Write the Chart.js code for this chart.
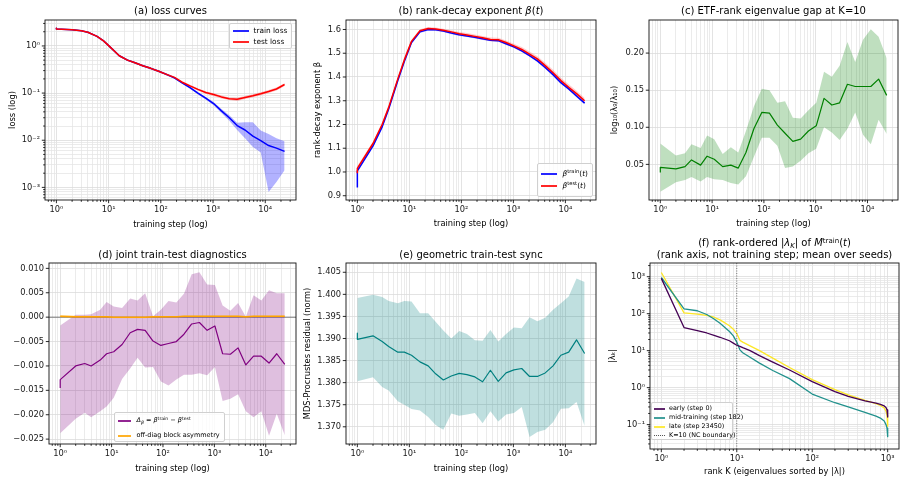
<!DOCTYPE html>
<html><head><meta charset="utf-8">
<script src="https://cdn.jsdelivr.net/npm/chart.js@4.4.0/dist/chart.umd.min.js"></script>
<style>
html,body{margin:0;padding:0;background:#fff}
body{position:relative;width:906px;height:482px;overflow:hidden;font-family:"DejaVu Sans",sans-serif;color:#000}
canvas{position:absolute}
.t{position:absolute;font-size:10px;line-height:12px;white-space:nowrap;transform:translateX(-50%);text-align:center}
.lg{position:absolute;box-sizing:border-box;border:1px solid #d0d0d0;border-radius:2px;background:rgba(255,255,255,0.8)}
.sw{position:absolute}
.lt{position:absolute;white-space:nowrap}
sup{font-size:70%;vertical-align:0;position:relative;top:-0.5em}
sub{font-size:70%;vertical-align:0;position:relative;top:0.3em}
</style></head><body>
<script>
// ---------------- data ----------------
const steps = [0,1,2,3,4,6,8,11,16,23,32,45,64,91,128,182,256,362,512,724,1024,1448,2048,2896,4096,5793,8192,11585,16384,23450];

const trainLoss   = [2.38,2.28,2.21,2.1,1.95,1.6,1.28,0.92,0.62,0.5,0.44,0.38,0.335,0.29,0.25,0.21,0.165,0.13,0.1,0.078,0.06,0.042,0.03,0.0205,0.0165,0.0122,0.0098,0.0077,0.0068,0.0058];
const trainLossHi = [2.42,2.32,2.25,2.14,1.99,1.64,1.31,0.95,0.64,0.52,0.455,0.395,0.348,0.3,0.26,0.218,0.172,0.137,0.106,0.083,0.065,0.046,0.034,0.0235,0.024,0.024,0.016,0.0135,0.011,0.0095];
const trainLossLo = [2.34,2.24,2.17,2.06,1.91,1.56,1.25,0.89,0.6,0.48,0.425,0.365,0.322,0.28,0.24,0.202,0.158,0.123,0.094,0.073,0.055,0.038,0.026,0.0165,0.011,0.0072,0.0055,0.0008,0.0013,0.0023];
const testLoss    = [2.38,2.28,2.21,2.1,1.95,1.6,1.28,0.92,0.62,0.5,0.44,0.38,0.335,0.29,0.25,0.215,0.17,0.142,0.12,0.103,0.093,0.083,0.076,0.074,0.081,0.088,0.097,0.108,0.122,0.152];
const testLossHi  = [2.45,2.34,2.27,2.16,2.01,1.66,1.33,0.96,0.65,0.525,0.46,0.4,0.352,0.304,0.263,0.226,0.179,0.15,0.127,0.109,0.099,0.089,0.081,0.08,0.087,0.094,0.104,0.116,0.131,0.162];
const testLossLo  = [2.31,2.22,2.15,2.04,1.89,1.54,1.23,0.88,0.59,0.475,0.42,0.36,0.318,0.276,0.237,0.204,0.161,0.134,0.113,0.097,0.087,0.077,0.071,0.068,0.075,0.082,0.09,0.1,0.113,0.142];

const betaTrain   = [0.935,1.005,1.11,1.19,1.265,1.385,1.465,1.545,1.59,1.6,1.599,1.594,1.585,1.578,1.573,1.567,1.561,1.555,1.553,1.54,1.527,1.51,1.49,1.468,1.44,1.41,1.376,1.35,1.32,1.29];
const betaTrainHi = [0.945,1.012,1.116,1.196,1.271,1.391,1.471,1.551,1.595,1.605,1.604,1.599,1.59,1.583,1.578,1.572,1.566,1.56,1.558,1.545,1.532,1.515,1.495,1.474,1.446,1.416,1.382,1.356,1.326,1.296];
const betaTrainLo = [0.925,0.998,1.104,1.184,1.259,1.379,1.459,1.539,1.585,1.595,1.594,1.589,1.58,1.573,1.568,1.562,1.556,1.55,1.548,1.535,1.522,1.505,1.485,1.462,1.434,1.404,1.37,1.344,1.314,1.284];
const betaTest    = [0.995,1.015,1.12,1.2,1.272,1.392,1.472,1.55,1.595,1.604,1.602,1.597,1.59,1.582,1.577,1.571,1.565,1.558,1.557,1.545,1.531,1.516,1.496,1.476,1.448,1.418,1.385,1.357,1.33,1.3];
const betaTestHi  = [1.005,1.025,1.128,1.208,1.28,1.4,1.48,1.557,1.601,1.61,1.608,1.603,1.597,1.589,1.585,1.579,1.573,1.566,1.565,1.554,1.54,1.526,1.507,1.487,1.46,1.43,1.397,1.369,1.342,1.312];
const betaTestLo  = [0.985,1.005,1.112,1.192,1.264,1.384,1.464,1.543,1.589,1.598,1.596,1.591,1.583,1.575,1.569,1.563,1.557,1.55,1.549,1.536,1.522,1.506,1.485,1.465,1.436,1.406,1.373,1.345,1.318,1.288];

const etfGap   = [0.039,0.046,0.044,0.047,0.056,0.049,0.061,0.057,0.047,0.049,0.045,0.066,0.098,0.120,0.119,0.103,0.092,0.081,0.084,0.095,0.102,0.139,0.130,0.133,0.158,0.155,0.155,0.155,0.165,0.143];
const etfGapHi = [0.078,0.078,0.062,0.065,0.077,0.072,0.089,0.084,0.064,0.073,0.066,0.095,0.128,0.152,0.150,0.133,0.135,0.113,0.112,0.123,0.133,0.175,0.168,0.183,0.215,0.188,0.218,0.232,0.222,0.193];
const etfGapLo = [0.013,0.013,0.026,0.029,0.033,0.027,0.033,0.030,0.029,0.025,0.023,0.034,0.060,0.086,0.086,0.075,0.045,0.047,0.055,0.065,0.071,0.100,0.093,0.083,0.098,0.120,0.090,0.077,0.110,0.091];

const deltaBeta   = [-0.0145,-0.0128,-0.0100,-0.0095,-0.0100,-0.0088,-0.0075,-0.0071,-0.0056,-0.0032,-0.0025,-0.0027,-0.0049,-0.0058,-0.0054,-0.0050,-0.0035,-0.0014,-0.0011,-0.0027,-0.0018,-0.0075,-0.0076,-0.0063,-0.0098,-0.0080,-0.0080,-0.0094,-0.0075,-0.0097];
const deltaBetaHi = [-0.0017,-0.0017,0.0005,0.0005,0.0006,0.0015,0.0031,0.0022,0.0019,0.0038,0.0034,0.0049,0.0002,0.0015,0.0033,0.0030,0.0048,0.0088,0.0092,0.0067,0.0066,0.0024,0.0013,0.0029,0.0001,0.0045,0.0034,0.0055,0.0049,0.0049];
const deltaBetaLo = [-0.0238,-0.0238,-0.0208,-0.0196,-0.0205,-0.0193,-0.0183,-0.0165,-0.0127,-0.0105,-0.0083,-0.0103,-0.0102,-0.0132,-0.0140,-0.0128,-0.0118,-0.0118,-0.0115,-0.0119,-0.0102,-0.0172,-0.0167,-0.0158,-0.0193,-0.0205,-0.0193,-0.0243,-0.0198,-0.0242];
const blockAsym   = [0.0002,0.0002,0.0001,0.0001,0.0001,0.0001,0.0001,0.0000,0.0000,0.0000,0.0000,0.0000,0.0001,0.0001,0.0001,0.0001,0.0002,0.0002,0.0002,0.0002,0.0002,0.0002,0.0002,0.0002,0.0001,0.0002,0.0002,0.0002,0.0002,0.0002];
const blockAsymHi = [0.0004,0.0004,0.0003,0.0003,0.0003,0.0002,0.0002,0.0001,0.0001,0.0001,0.0001,0.0001,0.0002,0.0002,0.0002,0.0002,0.0003,0.0003,0.0003,0.0003,0.0003,0.0003,0.0003,0.0003,0.0002,0.0003,0.0003,0.0003,0.0003,0.0003];
const blockAsymLo = [0.0000,0.0000,-0.0001,-0.0001,-0.0001,-0.0001,-0.0001,-0.0002,-0.0002,-0.0002,-0.0002,-0.0002,-0.0001,-0.0001,0.0000,0.0000,0.0001,0.0001,0.0001,0.0001,0.0001,0.0001,0.0001,0.0001,0.0000,0.0001,0.0001,0.0001,0.0001,0.0001];

const mdsResid   = [1.3912,1.3898,1.3906,1.3893,1.3882,1.3869,1.3869,1.3862,1.3847,1.3838,1.3820,1.3806,1.3815,1.3821,1.3818,1.3813,1.3802,1.3828,1.3803,1.3822,1.3829,1.3832,1.3814,1.3814,1.3822,1.3838,1.3862,1.3869,1.3897,1.3866];
const mdsResidHi = [1.3992,1.3992,1.3999,1.3994,1.3985,1.3980,1.3985,1.3984,1.3957,1.3957,1.3938,1.3918,1.3900,1.3917,1.3910,1.3896,1.3895,1.3919,1.3893,1.3910,1.3925,1.3923,1.3948,1.3939,1.3947,1.3965,1.3980,1.3995,1.4036,1.4028];
const mdsResidLo = [1.3803,1.3803,1.3812,1.3790,1.3782,1.3758,1.3750,1.3740,1.3737,1.3722,1.3704,1.3693,1.3730,1.3725,1.3728,1.3731,1.3708,1.3735,1.3712,1.3728,1.3731,1.3745,1.3677,1.3688,1.3693,1.3710,1.3741,1.3742,1.3756,1.3702];

const ranks    = [1,2,3,4,5,6,8,9,10,11,12,15,20,30,50,100,200,300,500,700,800,900,950,980,1000];
const eigEarly = [900,42,35,30,26,23,18.5,16,14,13,12,10,7.3,4.9,3.0,1.45,0.78,0.58,0.44,0.38,0.35,0.32,0.29,0.25,0.16];
const eigMid   = [950,135,120,95,72,55,33,25,17,10.5,8.8,6.6,4.6,2.9,1.75,0.67,0.39,0.3,0.215,0.17,0.15,0.125,0.1,0.08,0.047];
const eigLate  = [1300,105,97,90,80,68,47,38,29,19,17,13.5,10,6.3,3.5,1.65,0.88,0.64,0.45,0.37,0.33,0.28,0.23,0.18,0.09];
const ncBoundary = 10;

// tick labels
const stepTicks = [1,10,100,1000,10000];
const stepTickLabels = ['10\u2070','10\u00b9','10\u00b2','10\u00b3','10\u2074'];
const lossTicks = [0.001,0.01,0.1,1];
const lossTickLabels = ['10\u207b\u00b3','10\u207b\u00b2','10\u207b\u00b9','10\u2070'];
const betaTicks = [0.9,1.0,1.1,1.2,1.3,1.4,1.5,1.6];
const betaTickLabels = ['0.9','1.0','1.1','1.2','1.3','1.4','1.5','1.6'];
const gapTicks = [0.05,0.10,0.15,0.20];
const gapTickLabels = ['0.05','0.10','0.15','0.20'];
const deltaTicks = [-0.025,-0.020,-0.015,-0.010,-0.005,0,0.005,0.010];
const deltaTickLabels = ['\u22120.025','\u22120.020','\u22120.015','\u22120.010','\u22120.005','0.000','0.005','0.010'];
const residTicks = [1.370,1.375,1.380,1.385,1.390,1.395,1.400,1.405];
const residTickLabels = ['1.370','1.375','1.380','1.385','1.390','1.395','1.400','1.405'];
const rankTicks = [1,10,100,1000];
const rankTickLabels = ['10\u2070','10\u00b9','10\u00b2','10\u00b3'];
const eigTicks = [0.1,1,10,100,1000];
const eigTickLabels = ['10\u207b\u00b9','10\u2070','10\u00b9','10\u00b2','10\u00b3'];

// ---------------- helpers ----------------
const FONT = '"DejaVu Sans", sans-serif';
const MAJOR = '#dcdcdc', MINOR = '#e6e6e6';
const stepX = steps.map(s => Math.max(s, 1));
const pts = (xs, ys) => xs.map((x, i) => ({x, y: ys[i]}));

function logTickList(min, max) {
  const out = [];
  const k0 = Math.floor(Math.log10(min)), k1 = Math.ceil(Math.log10(max));
  for (let k = k0; k <= k1; k++) for (let m = 1; m <= 9; m++) {
    const v = m * Math.pow(10, k);
    if (v >= min && v <= max) out.push({value: v, minor: m !== 1});
  }
  return out;
}
function labelFor(ax, v) {
  for (let i = 0; i < ax.majors.length; i++) {
    const m = ax.majors[i];
    if (Math.abs(v - m) <= 1e-9 * Math.max(1e-12, Math.abs(m)) + 1e-12) return ax.labels[i];
  }
  return '';
}
const framePlugin = {
  id: 'frame',
  afterDatasetsDraw(chart) {
    const {ctx, chartArea: a} = chart;
    ctx.save();
    ctx.strokeStyle = '#111'; ctx.lineWidth = 0.9;
    ['x','y'].forEach(id => {
      const s = chart.scales[id];
      s.ticks.forEach(t => {
        const len = t.minor ? 1.8 : 3.2;
        const p = s.getPixelForValue(t.value);
        ctx.beginPath();
        if (id === 'x') { ctx.moveTo(p, a.bottom); ctx.lineTo(p, a.bottom + len); }
        else { ctx.moveTo(a.left, p); ctx.lineTo(a.left - len, p); }
        ctx.stroke();
      });
    });
    ctx.strokeRect(a.left, a.top, a.right - a.left, a.bottom - a.top);
    ctx.restore();
  }
};

function makePanel(box, cfg) {
  const PADL = 60, PADT = 10, PADR = 10, AXH = 45;
  const W = box.r - box.l + PADL + PADR, H = box.b - box.t + PADT + AXH;
  const cv = document.createElement('canvas');
  cv.width = W; cv.height = H;
  cv.style.width = W + 'px'; cv.style.height = H + 'px';
  cv.style.left = (box.l - PADL) + 'px'; cv.style.top = (box.t - PADT) + 'px';
  document.body.appendChild(cv);
  const mkAxis = (ax, isX) => {
    const tickList = ax.log ? logTickList(ax.min, ax.max) : ax.majors.map(v => ({value: v, minor: false}));
    const o = {
      type: ax.log ? 'logarithmic' : 'linear',
      min: ax.min, max: ax.max, bounds: 'data',
      afterBuildTicks: s => { s.ticks = tickList.map(t => ({value: t.value, minor: t.minor})); },
      afterFit: s => { if (isX) s.height = AXH; else s.width = PADL; },
      ticks: { autoSkip: false, maxRotation: 0, minRotation: 0, padding: 5, color: '#1a1a1a',
               font: {family: FONT, size: 8.3}, callback: v => labelFor(ax, v) },
      grid: { display: true, drawTicks: false, lineWidth: 0.8,
              color: c => (c.tick && c.tick.minor) ? (ax.minorGrid === false ? 'rgba(0,0,0,0)' : MINOR) : MAJOR },
      border: { display: false },
      title: ax.title ? { display: true, text: ax.title, color: '#000', font: {family: FONT, size: 8.3, lineHeight: 1.2},
               padding: isX ? {top: 0, bottom: box.b + AXH - ax.titleAt - 5} : {top: ax.titleAt - (box.l - PADL) - 5, bottom: 0} } : {display: false}
    };
    return o;
  };
  return new Chart(cv, {
    type: 'line',
    data: { datasets: cfg.datasets },
    options: {
      responsive: false, animation: false, devicePixelRatio: 1,
      layout: { padding: {left: 0, top: PADT, right: PADR, bottom: 0} },
      elements: { point: {radius: 0}, line: {tension: 0, borderJoinStyle: 'round'} },
      plugins: { legend: {display: false}, tooltip: {enabled: false}, title: {display: false} },
      scales: { x: mkAxis(cfg.x, true), y: mkAxis(cfg.y, false) }
    },
    plugins: [framePlugin].concat(cfg.plugins || [])
  });
}
function line(xs, ys, color, width, order) {
  return {data: pts(xs, ys), borderColor: color, borderWidth: width, fill: false, order};
}
function band(xs, hi, lo, color, order) {
  return [
    {data: pts(xs, hi), borderWidth: 0, borderColor: 'rgba(0,0,0,0)', backgroundColor: color, fill: '+1', order},
    {data: pts(xs, lo), borderWidth: 0, borderColor: 'rgba(0,0,0,0)', backgroundColor: color, fill: false, order}
  ];
}
function el(cls, html) {
  const d = document.createElement('div'); d.className = cls; if (html) d.innerHTML = html;
  document.body.appendChild(d); return d;
}
function title(cx, cy, html) {
  const d = el('t', html); d.style.left = cx + 'px'; d.style.top = (cy - 6) + 'px';
}
function legend(box, font, sx0, sx1, tx, rows) {
  const lg = el('lg');
  lg.style.left = box.l + 'px'; lg.style.top = box.t + 'px';
  lg.style.width = (box.r - box.l) + 'px'; lg.style.height = (box.b - box.t) + 'px';
  rows.forEach(r => {
    const sw = el('sw');
    sw.style.left = sx0 + 'px'; sw.style.width = (sx1 - sx0) + 'px';
    const yy = Math.round(r.y);
    if (r.dotted) { sw.style.top = (yy - 1) + 'px'; sw.style.height = '0px'; sw.style.borderTop = '1px dotted ' + r.color; }
    else { sw.style.top = (yy - 1) + 'px'; sw.style.height = '2px'; sw.style.backgroundColor = r.color; sw.style.opacity = '0.85'; }
    const t = el('lt', r.label);
    t.style.left = tx + 'px'; t.style.fontSize = font + 'px';
    t.style.lineHeight = (font * 1.4) + 'px'; t.style.top = (r.y - font * 0.72) + 'px';
  });
}

// ---------------- panels ----------------
const XMIN = 0.605, XMAX = 38800;
const stepAxis = (titleAt) => ({log: true, min: XMIN, max: XMAX, majors: stepTicks, labels: stepTickLabels, title: 'training step (log)', titleAt});

// (a)
makePanel({l: 45, t: 20, r: 296, b: 200}, {
  x: stepAxis(225),
  y: {log: true, min: 5.4e-4, max: 3.55, majors: lossTicks, labels: lossTickLabels, title: 'loss (log)', titleAt: 13},
  datasets: [
    line(stepX, testLoss, '#ff0000', 1.5, 0),
    line(stepX, trainLoss, '#0000ff', 1.5, 1),
    ...band(stepX, testLossHi, testLossLo, 'rgba(255,0,0,0.25)', 2),
    ...band(stepX, trainLossHi, trainLossLo, 'rgba(0,0,255,0.3)', 3)
  ]
});
// (b)
makePanel({l: 346, t: 20, r: 596, b: 200}, {
  x: stepAxis(224),
  y: {log: false, min: 0.882, max: 1.64, majors: betaTicks, labels: betaTickLabels, title: 'rank-decay exponent \u03b2', titleAt: 318},
  datasets: [
    line(stepX, betaTest, '#ff0000', 1.5, 0),
    line(stepX, betaTrain, '#0000ff', 1.5, 1),
    ...band(stepX, betaTestHi, betaTestLo, 'rgba(255,0,0,0.2)', 2),
    ...band(stepX, betaTrainHi, betaTrainLo, 'rgba(0,0,255,0.2)', 3)
  ]
});
// (c)
makePanel({l: 649, t: 20, r: 898, b: 200}, {
  x: stepAxis(224),
  y: {log: false, min: 0.002, max: 0.2446, majors: gapTicks, labels: gapTickLabels, title: 'log\u2081\u2080(\u03bb\u2089/\u03bb\u2081\u2080)', titleAt: 615},
  datasets: [
    line(stepX, etfGap, '#008000', 1.2, 0),
    ...band(stepX, etfGapHi, etfGapLo, 'rgba(0,128,0,0.25)', 1)
  ]
});
// (d)
const zeroLine = {
  id: 'zeroLine',
  beforeDatasetsDraw(chart) {
    const {ctx, chartArea: a} = chart; const y = chart.scales.y.getPixelForValue(0);
    ctx.save(); ctx.strokeStyle = 'rgba(0,0,0,0.55)'; ctx.lineWidth = 0.9;
    ctx.beginPath(); ctx.moveTo(a.left, y); ctx.lineTo(a.right, y); ctx.stroke(); ctx.restore();
  }
};
makePanel({l: 49, t: 263, r: 296, b: 444}, {
  x: stepAxis(469),
  y: {log: false, min: -0.0260, max: 0.0111, majors: deltaTicks, labels: deltaTickLabels},
  datasets: [
    line(stepX, blockAsym, '#ffa500', 1.5, 0),
    line(stepX, deltaBeta, '#800080', 1.2, 1),
    ...band(stepX, blockAsymHi, blockAsymLo, 'rgba(255,165,0,0.3)', 2),
    ...band(stepX, deltaBetaHi, deltaBetaLo, 'rgba(128,0,128,0.25)', 3)
  ],
  plugins: [zeroLine]
});
// (e)
makePanel({l: 346, t: 263, r: 596, b: 444}, {
  x: stepAxis(469),
  y: {log: false, min: 1.3661, max: 1.4071, majors: residTicks, labels: residTickLabels, title: 'MDS-Procrustes residual (norm)', titleAt: 308},
  datasets: [
    line(stepX, mdsResid, '#008080', 1.2, 0),
    ...band(stepX, mdsResidHi, mdsResidLo, 'rgba(0,128,128,0.25)', 1)
  ]
});
// (f)
const ncLine = {
  id: 'ncLine',
  afterDatasetsDraw(chart) {
    const {ctx, chartArea: a} = chart; const x = chart.scales.x.getPixelForValue(ncBoundary);
    ctx.save(); ctx.strokeStyle = 'rgba(60,60,60,0.8)'; ctx.lineWidth = 0.8; ctx.setLineDash([1, 1.5]);
    ctx.beginPath(); ctx.moveTo(x, a.top); ctx.lineTo(x, a.bottom); ctx.stroke(); ctx.restore();
  }
};
makePanel({l: 650, t: 263, r: 899, b: 449}, {
  x: {log: true, min: Math.pow(10, -0.15), max: Math.pow(10, 3.15), majors: rankTicks, labels: rankTickLabels, title: 'rank K (eigenvalues sorted by |\u03bb|)', titleAt: 472},
  y: {log: true, min: Math.pow(10, -1.66), max: Math.pow(10, 3.37), majors: eigTicks, labels: eigTickLabels, title: '|\u03bb\u2096|', titleAt: 613},
  datasets: [
    line(ranks, eigEarly, '#440154', 1.3, 0),
    line(ranks, eigMid, '#21918c', 1.3, 1),
    line(ranks, eigLate, '#fde725', 1.3, 2)
  ],
  plugins: [ncLine]
});

// ---------------- titles ----------------
title(170.5, 11, '(a) loss curves');
title(471, 11, '(b) rank-decay exponent <i>\u03b2</i>(<i>t</i>)');
title(773.5, 11, '(c) ETF-rank eigenvalue gap at K=10');
title(172.5, 255, '(d) joint train-test diagnostics');
title(471, 255, '(e) geometric train-test sync');
title(774.5, 243, '(f) rank-ordered |<i>\u03bb<sub>K</sub></i>| of <i>M</i><sup>train</sup>(<i>t</i>)');
title(774.5, 255, '(rank axis, not training step; mean over seeds)');

// ---------------- legends ----------------
const lossLegend = ['train loss', 'test loss'];
const betaLegend = ['<i>\u03b2</i><sup>train</sup>(<i>t</i>)', '<i>\u03b2</i><sup>test</sup>(<i>t</i>)'];
const diagLegend = ['<i>\u0394<sub>\u03b2</sub></i> = <i>\u03b2</i><sup>train</sup> \u2212 <i>\u03b2</i><sup>test</sup>', 'off-diag block asymmetry'];
const rankLegend = ['early (step 0)', 'mid-training (step 182)', 'late (step 23450)', 'K=10 (NC boundary)'];

legend({l: 229, t: 23, r: 292, b: 49}, 7.4, 232.5, 248.5, 253.5, [
  {y: 31, color: '#0000ff', label: lossLegend[0]},
  {y: 42, color: '#ff0000', label: lossLegend[1]}
]);
legend({l: 537, t: 163, r: 593, b: 197}, 7.4, 540.5, 556.5, 562.5, [
  {y: 174, color: '#0000ff', label: betaLegend[0]},
  {y: 186, color: '#ff0000', label: betaLegend[1]}
]);
legend({l: 114, t: 412, r: 225, b: 442}, 6.5, 117.5, 131, 136.5, [
  {y: 421, color: '#800080', label: diagLegend[0]},
  {y: 436, color: '#ffa500', label: diagLegend[1]}
]);
legend({l: 651, t: 402, r: 733, b: 440}, 6.4, 654, 665, 669, [
  {y: 409, color: '#440154', label: rankLegend[0]},
  {y: 418, color: '#21918c', label: rankLegend[1]},
  {y: 427, color: '#fde725', label: rankLegend[2]},
  {y: 436, color: '#555555', dotted: true, label: rankLegend[3]}
]);
</script>
</body></html>
